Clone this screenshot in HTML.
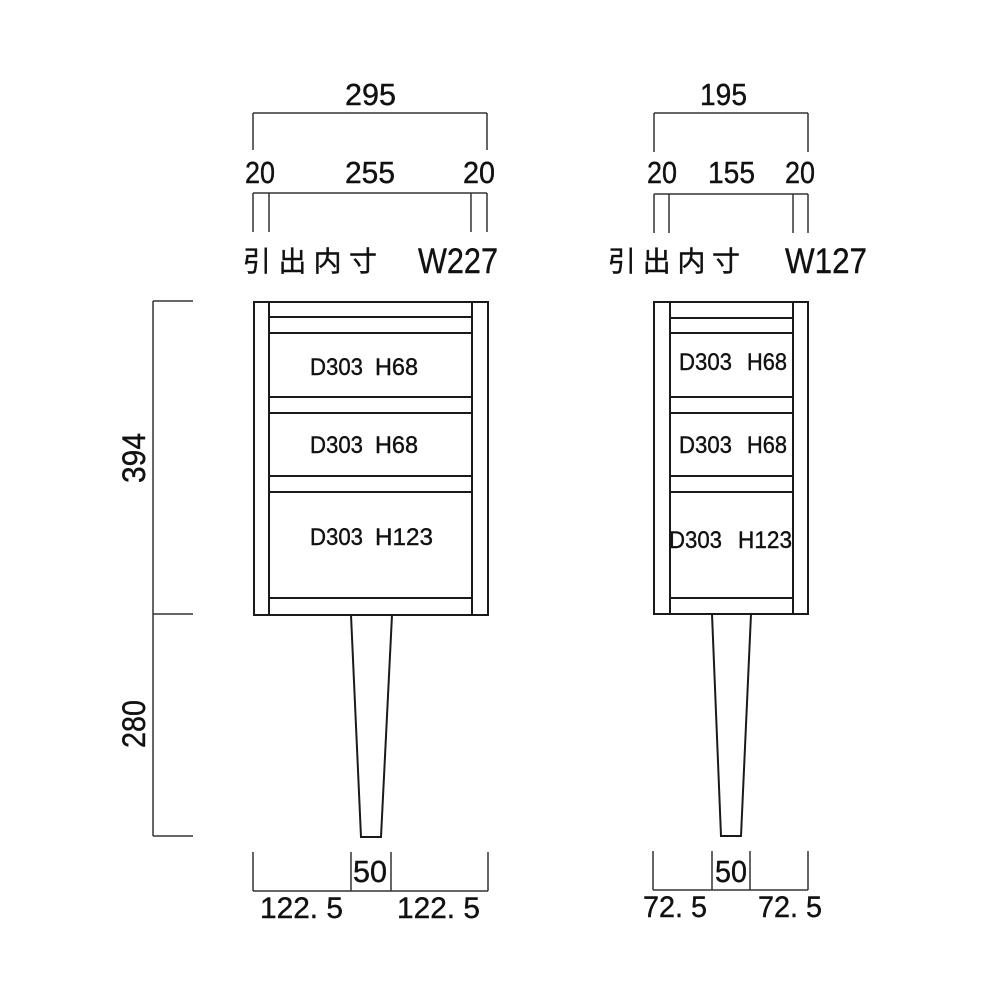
<!DOCTYPE html>
<html><head><meta charset="utf-8"><style>
html,body{margin:0;padding:0;background:#fff;}
svg{display:block;}
text{font-family:"Liberation Sans","Noto Sans CJK JP",sans-serif;fill:#111;stroke:#111;stroke-width:0.4;}
.jp{font-family:"Liberation Sans","Noto Sans CJK JP",sans-serif;}
</style></head><body>
<svg width="1000" height="1000" viewBox="0 0 1000 1000" xmlns="http://www.w3.org/2000/svg">
<rect width="1000" height="1000" fill="#fff"/>
<g stroke="#333" stroke-width="1.5" fill="none">
  <!-- left top dims -->
  <line x1="253" y1="113" x2="487" y2="113"/>
  <line x1="253" y1="113" x2="253" y2="150"/>
  <line x1="487" y1="113" x2="487" y2="150"/>
  <line x1="253" y1="193" x2="487" y2="193"/>
  <line x1="253" y1="193" x2="253" y2="232"/>
  <line x1="269" y1="193" x2="269" y2="232"/>
  <line x1="471" y1="193" x2="471" y2="232"/>
  <line x1="487" y1="193" x2="487" y2="232"/>
  <!-- right top dims -->
  <line x1="654" y1="113" x2="808" y2="113"/>
  <line x1="654" y1="113" x2="654" y2="152"/>
  <line x1="808" y1="113" x2="808" y2="152"/>
  <line x1="654" y1="194" x2="808" y2="194"/>
  <line x1="654" y1="194" x2="654" y2="233"/>
  <line x1="669" y1="194" x2="669" y2="233"/>
  <line x1="793" y1="194" x2="793" y2="233"/>
  <line x1="808" y1="194" x2="808" y2="233"/>
  <!-- vertical dim -->
  <line x1="153" y1="301" x2="153" y2="836"/>
  <line x1="153" y1="301" x2="193" y2="301"/>
  <line x1="153" y1="614" x2="193" y2="614"/>
  <line x1="153" y1="836" x2="193" y2="836"/>
  <!-- bottom dims left -->
  <line x1="253" y1="891" x2="488" y2="891"/>
  <line x1="253" y1="852" x2="253" y2="891"/>
  <line x1="351" y1="852" x2="351" y2="891"/>
  <line x1="391" y1="852" x2="391" y2="891"/>
  <line x1="488" y1="852" x2="488" y2="891"/>
  <!-- bottom dims right -->
  <line x1="653" y1="890" x2="808" y2="890"/>
  <line x1="653" y1="851" x2="653" y2="890"/>
  <line x1="712" y1="851" x2="712" y2="890"/>
  <line x1="750" y1="851" x2="750" y2="890"/>
  <line x1="808" y1="851" x2="808" y2="890"/>
</g>
<g stroke="#1a1a1a" stroke-width="2" fill="none">
  <!-- left cabinet -->
  <rect x="254" y="302" width="234" height="313"/>
  <line x1="269" y1="302" x2="269" y2="615"/>
  <line x1="472" y1="302" x2="472" y2="615"/>
  <line x1="269" y1="317" x2="472" y2="317"/>
  <line x1="269" y1="333" x2="472" y2="333"/>
  <line x1="269" y1="397" x2="472" y2="397"/>
  <line x1="269" y1="413" x2="472" y2="413"/>
  <line x1="269" y1="476" x2="472" y2="476"/>
  <line x1="269" y1="492" x2="472" y2="492"/>
  <line x1="269" y1="598" x2="472" y2="598"/>
  <polygon points="351,615 392,615 381,837 361,837"/>
  <!-- right cabinet -->
  <rect x="654" y="302" width="154" height="312"/>
  <line x1="670" y1="302" x2="670" y2="614"/>
  <line x1="793" y1="302" x2="793" y2="614"/>
  <line x1="670" y1="318" x2="793" y2="318"/>
  <line x1="670" y1="333" x2="793" y2="333"/>
  <line x1="670" y1="397" x2="793" y2="397"/>
  <line x1="670" y1="413" x2="793" y2="413"/>
  <line x1="670" y1="476" x2="793" y2="476"/>
  <line x1="670" y1="492" x2="793" y2="492"/>
  <line x1="670" y1="598" x2="793" y2="598"/>
  <polygon points="712,614 751,614 741,836 721,836"/>
</g>
<!-- top texts left -->
<text x="345" y="105" font-size="31" textLength="51" lengthAdjust="spacingAndGlyphs">295</text>
<text x="245" y="183" font-size="31" textLength="30" lengthAdjust="spacingAndGlyphs">20</text>
<text x="345" y="183" font-size="31" textLength="50" lengthAdjust="spacingAndGlyphs">255</text>
<text x="463" y="183" font-size="31" textLength="32" lengthAdjust="spacingAndGlyphs">20</text>
<text class="jp" x="243" y="271" font-size="28" textLength="134" lengthAdjust="spacing">引出内寸</text>
<text x="418" y="273" font-size="35" textLength="80" lengthAdjust="spacingAndGlyphs">W227</text>
<!-- top texts right -->
<text x="700" y="105" font-size="31" textLength="47" lengthAdjust="spacingAndGlyphs">195</text>
<text x="647" y="183" font-size="31" textLength="30" lengthAdjust="spacingAndGlyphs">20</text>
<text x="708" y="183" font-size="31" textLength="47" lengthAdjust="spacingAndGlyphs">155</text>
<text x="785" y="183" font-size="31" textLength="30" lengthAdjust="spacingAndGlyphs">20</text>
<text class="jp" x="608" y="271" font-size="28" textLength="132" lengthAdjust="spacing">引出内寸</text>
<text x="785" y="273" font-size="35" textLength="82" lengthAdjust="spacingAndGlyphs">W127</text>
<!-- cabinet labels left -->
<g font-size="24">
<text x="310" y="375" textLength="53" lengthAdjust="spacingAndGlyphs">D303</text>
<text x="375" y="375" textLength="43" lengthAdjust="spacingAndGlyphs">H68</text>
<text x="310" y="453" textLength="53" lengthAdjust="spacingAndGlyphs">D303</text>
<text x="375" y="453" textLength="43" lengthAdjust="spacingAndGlyphs">H68</text>
<text x="310" y="545" textLength="53" lengthAdjust="spacingAndGlyphs">D303</text>
<text x="375" y="545" textLength="58" lengthAdjust="spacingAndGlyphs">H123</text>
<!-- right -->
<text x="679" y="370" textLength="53" lengthAdjust="spacingAndGlyphs">D303</text>
<text x="747" y="370" textLength="40" lengthAdjust="spacingAndGlyphs">H68</text>
<text x="679" y="453" textLength="53" lengthAdjust="spacingAndGlyphs">D303</text>
<text x="747" y="453" textLength="40" lengthAdjust="spacingAndGlyphs">H68</text>
<text x="669" y="548" textLength="53" lengthAdjust="spacingAndGlyphs">D303</text>
<text x="738" y="548" textLength="54" lengthAdjust="spacingAndGlyphs">H123</text>
</g>
<!-- vertical dim texts -->
<text transform="translate(145,483) rotate(-90)" x="0" y="0" font-size="32" textLength="50" lengthAdjust="spacingAndGlyphs">394</text>
<text transform="translate(145,748) rotate(-90)" x="0" y="0" font-size="32" textLength="48" lengthAdjust="spacingAndGlyphs">280</text>
<!-- bottom texts -->
<text x="353" y="882" font-size="31" textLength="34" lengthAdjust="spacingAndGlyphs">50</text>
<text x="260" y="918" font-size="30" textLength="83" lengthAdjust="spacingAndGlyphs">122. 5</text>
<text x="397" y="918" font-size="30" textLength="83" lengthAdjust="spacingAndGlyphs">122. 5</text>
<text x="715" y="882" font-size="31" textLength="32" lengthAdjust="spacingAndGlyphs">50</text>
<text x="643" y="917" font-size="30" textLength="64" lengthAdjust="spacingAndGlyphs">72. 5</text>
<text x="758" y="917" font-size="30" textLength="64" lengthAdjust="spacingAndGlyphs">72. 5</text>
</svg>
</body></html>
